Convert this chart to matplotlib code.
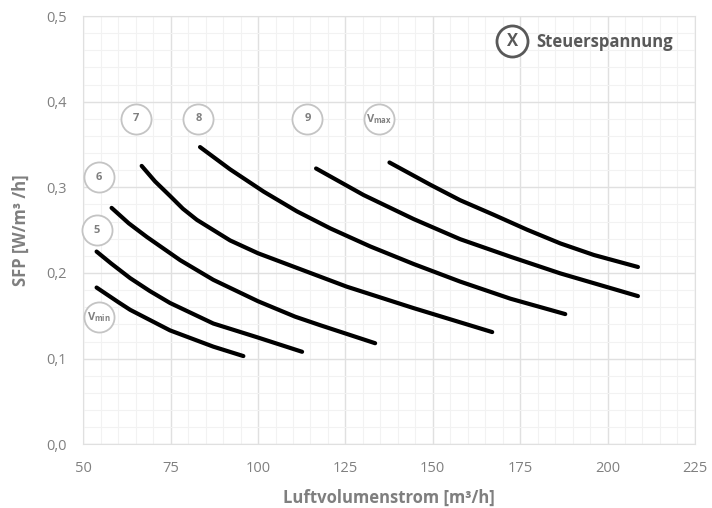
import matplotlib.pyplot as plt
from matplotlib.ticker import MultipleLocator, FuncFormatter

plt.rcParams['font.family'] = ['Open Sans', 'DejaVu Sans']
plt.rcParams['mathtext.fontset'] = 'custom'
plt.rcParams['mathtext.bf'] = 'Open Sans:bold'
plt.rcParams['mathtext.rm'] = 'Open Sans'

# Kennlinien je Steuerspannung (Luftvolumenstrom m3/h, SFP W/m3/h)
vmin_x = [53.8, 60.0, 63.4, 74.8, 87.2, 95.8]
vmin_y = [0.183, 0.166, 0.157, 0.133, 0.114, 0.103]

v5_x = [53.8, 58.0, 63.4, 69.0, 74.8, 87.2, 99.7, 112.6]
v5_y = [0.225, 0.211, 0.194, 0.179, 0.165, 0.141, 0.125, 0.108]

v6_x = [58.1, 63.0, 68.2, 77.7, 87.2, 100.0, 110.6, 117.8, 133.5]
v6_y = [0.276, 0.258, 0.242, 0.215, 0.192, 0.167, 0.149, 0.139, 0.118]

v7_x = [66.7, 70.5, 74.8, 78.5, 82.5, 92.0, 100.0, 125.4, 144.5, 167.0]
v7_y = [0.325, 0.307, 0.290, 0.275, 0.262, 0.238, 0.223, 0.184, 0.159, 0.131]

v8_x = [83.4, 92.0, 101.6, 111.1, 120.7, 132.1, 144.5, 157.8, 172.2, 187.9]
v8_y = [0.347, 0.321, 0.295, 0.272, 0.252, 0.231, 0.2105, 0.190, 0.170, 0.152]

v9_x = [116.6, 130.2, 144.5, 157.8, 172.2, 186.5, 208.7]
v9_y = [0.322, 0.291, 0.263, 0.2395, 0.219, 0.1995, 0.173]

vmax_x = [137.6, 149.3, 157.8, 167.4, 177.0, 186.5, 196.1, 208.7]
vmax_y = [0.329, 0.303, 0.285, 0.268, 0.2505, 0.2345, 0.221, 0.207]

curves = [(vmin_x, vmin_y), (v5_x, v5_y), (v6_x, v6_y), (v7_x, v7_y),
          (v8_x, v8_y), (v9_x, v9_y), (vmax_x, vmax_y)]

# Beschriftungskreise
label_text = [r'$\mathbf{V_{min}}$', '5', '6', '7', '8', '9', r'$\mathbf{V_{max}}$']
label_x = [54.4, 53.8, 54.4, 65.1, 82.9, 114.1, 134.7]
label_y = [0.149, 0.250, 0.3115, 0.380, 0.380, 0.380, 0.380]

fig = plt.figure(figsize=(7.12, 5.08), dpi=100)
ax = fig.add_axes([0.117, 0.1254, 0.859, 0.8431])

for x, y in curves:
    ax.plot(x, y, color='black', lw=3, solid_capstyle='round',
            solid_joinstyle='round', zorder=3)

ax.scatter(label_x, label_y, s=470, facecolor='white', edgecolor='#c4c4c4',
           linewidth=1.3, zorder=4, clip_on=False)
for t, x, y in zip(label_text, label_x, label_y):
    ax.text(x, y, t, ha='center', va='center', fontsize=8, fontweight='bold',
            color='#7f7f7f', zorder=5)

# Legende oben rechts
ax.scatter([172.7], [0.4706], s=500, facecolor='white', edgecolor='#595959',
           linewidth=2, zorder=4)
ax.text(172.7, 0.4712, 'X', ha='center', va='center', fontsize=12,
        fontweight='bold', color='#595959', zorder=5)
ax.text(179.6, 0.4700, 'Steuerspannung', ha='left', va='center', fontsize=12,
        fontweight='bold', color='#595959', zorder=5)

ax.set_xlim(50, 225)
ax.set_ylim(0, 0.5)
ax.xaxis.set_major_locator(MultipleLocator(25))
ax.xaxis.set_minor_locator(MultipleLocator(5))
ax.yaxis.set_major_locator(MultipleLocator(0.1))
ax.yaxis.set_minor_locator(MultipleLocator(0.02))
ax.yaxis.set_major_formatter(FuncFormatter(lambda v, p: f'{v:.1f}'.replace('.', ',')))

ax.grid(which='major', color='#e0e0e0', lw=1)
ax.grid(which='minor', color='#f2f2f2', lw=0.8)
ax.set_axisbelow(True)
for s in ax.spines.values():
    s.set_color('#e0e0e0')
ax.tick_params(which='both', length=0, labelsize=10.5, labelcolor='#808080', pad=12)

ax.set_xlabel('Luftvolumenstrom [m³/h]', fontsize=12, fontweight='bold',
              color='#7f7f7f', labelpad=9)
ax.set_ylabel('SFP [W/m³ /h]', fontsize=12, fontweight='bold',
              color='#7f7f7f', labelpad=12)

fig.savefig('out.png', dpi=100, facecolor='white')
